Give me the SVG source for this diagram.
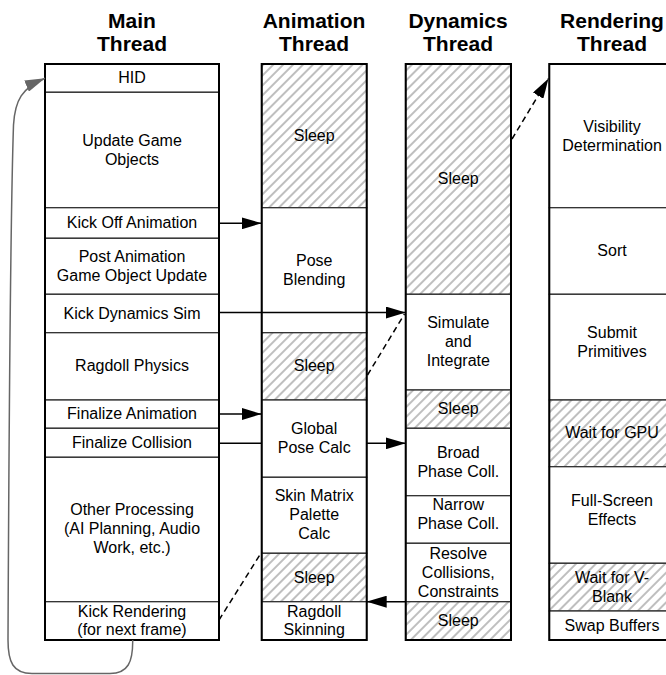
<svg xmlns="http://www.w3.org/2000/svg" width="666" height="675" viewBox="0 0 666 675">
<style>
.hdr{font-family:"Liberation Sans",Arial,sans-serif;font-size:21px;font-weight:bold;text-anchor:middle;fill:#000}
.t{font-family:"Liberation Sans",Arial,sans-serif;font-size:16px;text-anchor:middle;fill:#000}
.seg{fill:#fff;stroke:#333;stroke-width:1.3}
.slp{fill:url(#hatch);stroke:#333;stroke-width:1.3}
.col{fill:none;stroke:#000;stroke-width:2}
.c{stroke:#000;stroke-width:1.5;fill:none}
.d{stroke:#000;stroke-width:1.5;fill:none;stroke-dasharray:6 4}
</style>
<defs>
<pattern id="hatch" width="7" height="7" patternUnits="userSpaceOnUse" patternTransform="rotate(45)">
<rect width="7" height="7" fill="#fff"/>
<line x1="1" y1="0" x2="1" y2="7" stroke="#aaa" stroke-width="1.5"/>
</pattern>
<marker id="ah" markerUnits="userSpaceOnUse" markerWidth="20" markerHeight="12" refX="20" refY="6" orient="auto">
<path d="M0,0 L20,6 L0,12 z" fill="#000"/>
</marker>
<marker id="ahg" markerUnits="userSpaceOnUse" markerWidth="20" markerHeight="12" refX="20" refY="6" orient="auto">
<path d="M0,0 L20,6 L0,12 z" fill="#666"/>
</marker>
</defs>
<rect width="666" height="675" fill="#fff"/>

<g id="headers">
<text class="hdr" x="132" y="28">Main</text><text class="hdr" x="132" y="51">Thread</text>
<text class="hdr" x="314" y="28">Animation</text><text class="hdr" x="314" y="51">Thread</text>
<text class="hdr" x="458" y="28">Dynamics</text><text class="hdr" x="458" y="51">Thread</text>
<text class="hdr" x="612" y="28">Rendering</text><text class="hdr" x="612" y="51">Thread</text>
</g>

<!-- Main thread -->
<g id="main-thread">
<g id="m-hid"><rect class="seg" x="45" y="64" width="174" height="28.3"/><text class="t" x="132" y="83.3">HID</text></g>
<g id="m-update"><rect class="seg" x="45" y="92.3" width="174" height="115.4"/><text class="t" x="132" y="146">Update Game</text><text class="t" x="132" y="165">Objects</text></g>
<g id="m-kickanim"><rect class="seg" x="45" y="207.7" width="174" height="30.6"/><text class="t" x="132" y="228.3">Kick Off Animation</text></g>
<g id="m-post"><rect class="seg" x="45" y="238.3" width="174" height="56"/><text class="t" x="132" y="261.8">Post Animation</text><text class="t" x="132" y="280.8">Game Object Update</text></g>
<g id="m-kickdyn"><rect class="seg" x="45" y="294.3" width="174" height="38.4"/><text class="t" x="132" y="318.5">Kick Dynamics Sim</text></g>
<g id="m-ragdoll"><rect class="seg" x="45" y="332.7" width="174" height="67.3"/><text class="t" x="132" y="371.4">Ragdoll Physics</text></g>
<g id="m-finanim"><rect class="seg" x="45" y="400" width="174" height="28.3"/><text class="t" x="132" y="419.2">Finalize Animation</text></g>
<g id="m-fincoll"><rect class="seg" x="45" y="428.3" width="174" height="29"/><text class="t" x="132" y="448">Finalize Collision</text></g>
<g id="m-other"><rect class="seg" x="45" y="457.3" width="174" height="144.4"/><text class="t" x="132" y="515.3">Other Processing</text><text class="t" x="132" y="534.3">(AI Planning, Audio</text><text class="t" x="132" y="553.3">Work, etc.)</text></g>
<g id="m-kickrender"><rect class="seg" x="45" y="601.7" width="174" height="38.3"/><text class="t" x="132" y="616.5">Kick Rendering</text><text class="t" x="132" y="635.3">(for next frame)</text></g>
<rect class="col" x="45" y="64" width="174" height="576"/>
</g>

<!-- Animation thread -->
<g id="animation-thread">
<g id="a-sleep1"><rect class="slp" x="261.7" y="64" width="105" height="143.7"/><text class="t" x="314.2" y="140.5">Sleep</text></g>
<g id="a-pose"><rect class="seg" x="261.7" y="207.7" width="105" height="125"/><text class="t" x="314.2" y="265.7">Pose</text><text class="t" x="314.2" y="284.7">Blending</text></g>
<g id="a-sleep2"><rect class="slp" x="261.7" y="332.7" width="105" height="67.3"/><text class="t" x="314.2" y="371.4">Sleep</text></g>
<g id="a-global"><rect class="seg" x="261.7" y="400" width="105" height="77.3"/><text class="t" x="314.2" y="434.2">Global</text><text class="t" x="314.2" y="453.2">Pose Calc</text></g>
<g id="a-skin"><rect class="seg" x="261.7" y="477.3" width="105" height="76"/><text class="t" x="314.2" y="501.3">Skin Matrix</text><text class="t" x="314.2" y="520.3">Palette</text><text class="t" x="314.2" y="539.3">Calc</text></g>
<g id="a-sleep3"><rect class="slp" x="261.7" y="553.3" width="105" height="48.4"/><text class="t" x="314.2" y="582.5">Sleep</text></g>
<g id="a-ragdoll"><rect class="seg" x="261.7" y="601.7" width="105" height="38.3"/><text class="t" x="314.2" y="616.5">Ragdoll</text><text class="t" x="314.2" y="635.3">Skinning</text></g>
<rect class="col" x="261.7" y="64" width="105" height="576"/>
</g>

<!-- Dynamics thread -->
<g id="dynamics-thread">
<g id="d-sleep1"><rect class="slp" x="405.7" y="64" width="105.3" height="230.3"/><text class="t" x="458.3" y="184">Sleep</text></g>
<g id="d-sim"><rect class="seg" x="405.7" y="294.3" width="105.3" height="95.7"/><text class="t" x="458.3" y="328.2">Simulate</text><text class="t" x="458.3" y="347.2">and</text><text class="t" x="458.3" y="366.2">Integrate</text></g>
<g id="d-sleep2"><rect class="slp" x="405.7" y="390" width="105.3" height="38.3"/><text class="t" x="458.3" y="414.2">Sleep</text></g>
<g id="d-broad"><rect class="seg" x="405.7" y="428.3" width="105.3" height="67.4"/><text class="t" x="458.3" y="457.5">Broad</text><text class="t" x="458.3" y="476.5">Phase Coll.</text></g>
<g id="d-narrow"><rect class="seg" x="405.7" y="495.7" width="105.3" height="47.6"/><text class="t" x="458.3" y="510">Narrow</text><text class="t" x="458.3" y="529">Phase Coll.</text></g>
<g id="d-resolve"><rect class="seg" x="405.7" y="543.3" width="105.3" height="58.4"/><text class="t" x="458.3" y="558.5">Resolve</text><text class="t" x="458.3" y="577.5">Collisions,</text><text class="t" x="458.3" y="596.5">Constraints</text></g>
<g id="d-sleep3"><rect class="slp" x="405.7" y="601.7" width="105.3" height="38.3"/><text class="t" x="458.3" y="625.8">Sleep</text></g>
<rect class="col" x="405.7" y="64" width="105.3" height="576"/>
</g>

<!-- Rendering thread -->
<g id="rendering-thread">
<g id="r-vis"><rect class="seg" x="549.3" y="64" width="125.4" height="143.7"/><text class="t" x="612" y="131.5">Visibility</text><text class="t" x="612" y="150.5">Determination</text></g>
<g id="r-sort"><rect class="seg" x="549.3" y="207.7" width="125.4" height="86.6"/><text class="t" x="612" y="256">Sort</text></g>
<g id="r-submit"><rect class="seg" x="549.3" y="294.3" width="125.4" height="105.7"/><text class="t" x="612" y="337.6">Submit</text><text class="t" x="612" y="356.6">Primitives</text></g>
<g id="r-waitgpu"><rect class="slp" x="549.3" y="400" width="125.4" height="66.7"/><text class="t" x="612" y="438.4">Wait for GPU</text></g>
<g id="r-fullscreen"><rect class="seg" x="549.3" y="466.7" width="125.4" height="96.6"/><text class="t" x="612" y="505.5">Full-Screen</text><text class="t" x="612" y="524.5">Effects</text></g>
<g id="r-vblank"><rect class="slp" x="549.3" y="563.3" width="125.4" height="47.7"/><text class="t" x="612" y="582.7">Wait for V-</text><text class="t" x="612" y="601.7">Blank</text></g>
<g id="r-swap"><rect class="seg" x="549.3" y="611" width="125.4" height="29"/><text class="t" x="612" y="630.5">Swap Buffers</text></g>
<rect class="col" x="549.3" y="64" width="125.4" height="576"/>
</g>

<!-- Connectors -->
<g id="connectors">
<line class="c" x1="219" y1="223.3" x2="261.7" y2="223.3" marker-end="url(#ah)"/>
<line class="c" x1="219" y1="312.5" x2="405.7" y2="312.5" marker-end="url(#ah)"/>
<line class="c" x1="219" y1="414" x2="261.7" y2="414" marker-end="url(#ah)"/>
<line class="c" x1="219" y1="443.3" x2="261.7" y2="443.3"/>
<line class="c" x1="366.7" y1="443.3" x2="405.7" y2="443.3" marker-end="url(#ah)"/>
<line class="c" x1="405.7" y1="601.7" x2="366.7" y2="601.7" marker-end="url(#ah)"/>
<line class="d" x1="367.5" y1="375" x2="404.5" y2="314"/>
<line class="d" x1="512" y1="139" x2="548.5" y2="78.5" marker-end="url(#ah)"/>
<line class="d" x1="219" y1="620" x2="262" y2="551.5"/>
<path d="M132.7,640 C133,662 128,673.5 110,673.5 L32,673.5 C13,673.5 8,662 8,640 C9,420 11,200 13.5,125 C15,100 22,88 45,78.3" fill="none" stroke="#666" stroke-width="1.5" marker-end="url(#ahg)"/>
</g>
</svg>
